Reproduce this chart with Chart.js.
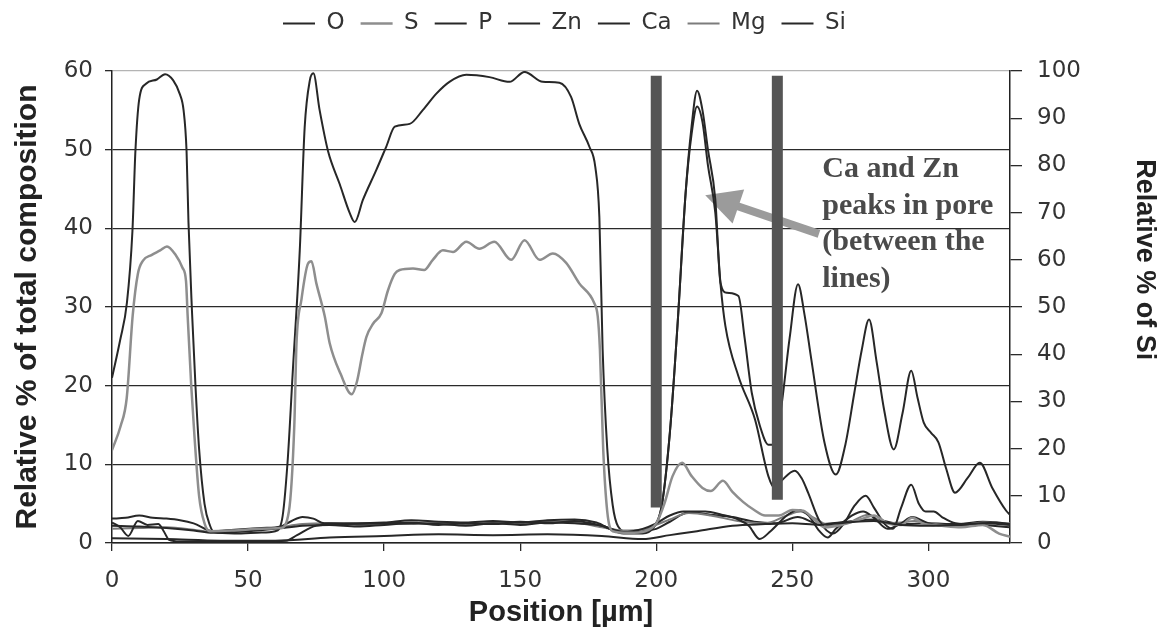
<!DOCTYPE html>
<html lang="en">
<head>
<meta charset="UTF-8" />
<title>Line scan composition</title>
<script src="https://cdn.jsdelivr.net/npm/chart.js"></script>
<style>
  html, body { margin: 0; padding: 0; background: #fff; }
  #wrap { width: 1157px; height: 632px; }
</style>
</head>
<body>
<div id="wrap"><canvas id="scan"></canvas></div>
<script>
// positions in µm, values in % (Si on the right axis)
const oPos = [0, 20, 40, 60, 80, 100, 120, 140, 160, 180, 195, 205, 215, 228, 240, 250, 260, 270, 280, 290, 300, 310, 320, 330];
const oVal = [0.6, 0.5, 0.3, 0.3, 0.7, 0.9, 1.1, 1.0, 1.1, 0.9, 0.5, 1.0, 1.5, 2.2, 2.4, 2.5, 2.3, 2.6, 2.8, 2.3, 2.2, 2.3, 2.5, 2.3];

const sPos = [0, 3.2, 5.4, 7.6, 9.5, 11.4, 14.5, 17.7, 20.2, 23.4, 25.9, 27.2, 27.8, 29.1, 30.3, 32, 34, 36, 45, 55,
  62, 65, 67, 67.8, 69.6, 72, 73.3, 75.1, 78.2, 80, 84, 88.1, 90, 92, 93.5, 96, 99, 101.4, 103.9, 105.7,
  110.6, 114.7, 117.9, 121.6, 125.3, 130.2, 135, 140.5, 146.7, 151.6, 157.1, 162, 166.9, 171.7, 177.2, 178.5, 179.3, 180.5, 182, 184,
  190, 196, 200, 203, 206, 209.5, 213, 217, 220, 224.5, 228, 232, 236, 240, 245, 250, 254, 258, 262, 268,
  275, 280, 285, 290, 294, 298, 305, 312, 320, 326, 330];
const sVal = [11.8, 14.9, 18.4, 28.9, 34.2, 35.9, 36.6, 37.2, 37.7, 36.6, 35, 33.3, 28.9, 20.1, 13.6, 6, 2.5, 1.5, 1.6, 1.8,
  1.9, 4, 15, 25.4, 30.9, 35.5, 35.8, 33, 28.8, 25.4, 21.5, 18.9, 20.5, 24, 26.2, 27.9, 29.2, 32.1, 34.2, 34.7,
  34.9, 34.7, 36, 37.2, 37, 38.3, 37.4, 38.3, 36, 38.5, 36, 36.8, 35.6, 33, 30.5, 28.8, 24.6, 12, 4, 1.5,
  1.3, 1.5, 2.5, 5, 8.5, 10.2, 8.5, 7, 6.6, 7.9, 6.5, 5.2, 4.2, 3.5, 3.5, 4.2, 4.1, 3, 2, 2.3,
  3, 3.5, 2.5, 2.3, 3.2, 2.5, 2.2, 2, 2.3, 1.2, 0.8];

const pPos = [0, 3, 6, 9.5, 13, 17, 19, 21, 25, 40, 55, 64, 68, 75, 85, 100, 110, 120, 130, 140,
  150, 160, 170, 180, 188, 195, 200, 205, 210, 218, 224, 230, 234, 238, 242, 248, 252, 256, 260, 263,
  266, 272, 276, 280, 285, 290, 294, 300, 305, 315, 325, 330];
const pVal = [2.6, 2, 0.9, 2.8, 2.3, 2.4, 1.5, 0.4, 0.2, 0.2, 0.2, 0.3, 1.0, 2.2, 2.4, 2.5, 2.6, 2.3, 2.5, 2.4,
  2.7, 2.5, 2.8, 2.2, 1.4, 1.8, 2.5, 3.5, 4.0, 4.0, 3.6, 3.0, 2.2, 0.5, 1.5, 3.5, 4.2, 3.5, 1.5, 0.7,
  1.8, 3.5, 4.0, 3.2, 1.8, 2.5, 3.3, 2.5, 2.2, 2.3, 2.6, 2.4];

const znPos = [0, 10, 20, 30, 37, 50, 60, 70, 80, 90, 100, 110, 120, 130, 140, 150, 160, 170, 180, 188,
  195, 199, 202, 205, 207.8, 210.8, 213, 215, 217, 219, 221.7, 223.6, 226, 230.2, 232.5, 235.1, 238, 241.2, 243.5, 246,
  249, 252.1, 254.5, 257, 261.8, 266, 269.5, 272.8, 275.5, 278.2, 281, 283.7, 287.3, 290.5, 293.7, 296, 298.3, 301, 303.7, 306.5,
  309.8, 314.5, 318.9, 323.5, 328.6, 330];
const znVal = [2.2, 2.1, 1.9, 1.6, 1.3, 1.5, 1.8, 2.2, 2.3, 2.1, 2.3, 2.5, 2.4, 2.2, 2.5, 2.3, 2.6, 2.5, 2.2, 1.2,
  1.2, 2, 4.7, 14, 27.6, 44.5, 53, 57.5, 55, 50, 43.7, 33.1, 31.8, 31.4, 26, 19.1, 15, 12.5, 12.5, 17.4,
  26, 32.9, 29, 23.3, 12.8, 8.7, 12.5, 19.1, 24.5, 28.4, 23, 17, 11.9, 16.5, 21.9, 18.5, 15.3, 14, 12.8, 9.5,
  6.4, 8.3, 10.2, 7, 4.1, 3.6];

const caPos = [0, 5, 10, 15, 20, 25, 30, 37, 45, 55, 62, 66, 70, 74, 78, 90, 100, 110, 120, 130,
  140, 150, 160, 170, 178, 186, 194, 199, 202, 205, 207.8, 210.8, 213, 215, 217, 219, 221.7, 223.6, 225.4, 230.2,
  236.3, 241.2, 243.5, 246, 250.9, 253.5, 255.8, 260, 265, 269, 273, 277, 280, 284, 287, 290, 293.7, 296.5, 299, 302,
  305, 310, 320, 330];
const caVal = [3.1, 3.2, 3.5, 3.2, 3.1, 2.9, 2.5, 1.5, 1.7, 1.9, 2.1, 2.8, 3.3, 3.1, 2.5, 2.5, 2.6, 2.9, 2.7, 2.6,
  2.8, 2.6, 2.9, 3.0, 2.6, 1.4, 1.3, 2, 4.7, 14, 27.6, 44.5, 52, 55.5, 53.5, 48, 42, 33, 27.6, 21.2,
  15.7, 8.5, 7, 7.9, 9.2, 8.2, 6.4, 2.8, 1.2, 2.5, 4.8, 6, 4.5, 2.4, 1.8, 4.5, 7.4, 5, 4, 4,
  3.3, 2.5, 2.3, 2];

const mgPos = [0, 10, 20, 30, 37, 50, 60, 70, 80, 90, 100, 110, 120, 130, 140, 150, 160, 170, 180, 188,
  195, 200, 205, 212, 220, 230, 240, 248, 253, 258, 264, 270, 278, 284, 290, 295, 300, 310, 320, 330];
const mgVal = [1.8, 1.9, 2.0, 1.7, 1.4, 1.6, 1.9, 2.4, 2.5, 2.3, 2.4, 2.4, 2.6, 2.4, 2.6, 2.4, 2.7, 2.6, 2.0, 1.6,
  1.7, 2.3, 3.0, 3.8, 3.5, 2.8, 2.5, 3.5, 4.0, 3.2, 2.2, 2.5, 3.6, 2.5, 2.6, 2.8, 2.5, 2.2, 2.6, 2.5];

const siPos = [0, 3, 5.5, 7.5, 8.6, 10, 12.5, 16.5, 19.5, 22.5, 25, 26.3, 27.4, 28.1, 29.4, 30.7, 32, 34, 36, 37.5,
  45, 55, 60, 62.5, 64.5, 66.5, 69, 70.8, 72.7, 74, 76.3, 79.4, 83.7, 87.3, 89.2, 92.2, 97.1, 100.8, 103.9, 109.4,
  114.2, 119.2, 124, 130.2, 138.7, 146.1, 151.6, 158.3, 164.4, 168.7, 171.7, 175.4, 177.6, 179.1, 180.3, 182, 184, 186, 190, 195,
  200, 205, 212, 220, 228, 236, 244, 252, 260, 270, 280, 290, 300, 310, 320, 330];
const siVal = [35, 43, 51, 66, 83, 94, 97.3, 98.2, 99.3, 98, 95, 91.7, 83, 68, 49, 33, 20, 8.3, 3.7, 2.3,
  2, 2.2, 2.5, 5, 17, 37, 62, 88, 98, 99.5, 91.7, 83, 76, 70, 68, 72.7, 79, 84, 88.2, 88.8,
  91.7, 95.2, 97.7, 99.2, 98.7, 97.7, 99.8, 97.7, 97.5, 94.5, 88.8, 84, 79.7, 69, 41, 20, 8, 3.5, 2.2, 2.5,
  3, 4.5, 6.5, 6, 5.5, 4.5, 4.2, 5.5, 4, 4.5, 5, 4, 4.2, 4, 4.5, 4];

// pore walls: position and the value range the marker spans
const poreEdges = [200, 244.5];
const poreLow = [4.5, 5.5];
const poreHigh = [59.4, 59.4];

// callout
const calloutLines = ['Ca and Zn', 'peaks in pore', '(between the', 'lines)'];
const calloutAt = [261, 46.5];
const arrowTail = [259.8, 39.3];
const arrowTip = [218, 44.2];

const dark = '#272727';

function pts(pos, val) {
  return pos.map((x, i) => ({ x: x, y: val[i] }));
}

function line(label, pos, val, color, width, axis) {
  return {
    label: label,
    data: pts(pos, val),
    borderColor: color,
    backgroundColor: color,
    borderWidth: width,
    pointRadius: 0,
    cubicInterpolationMode: 'monotone',
    yAxisID: axis || 'y',
    order: 0
  };
}

const datasets = [
  line('O', oPos, oVal, dark, 2),
  line('S', sPos, sVal, '#8e8e8e', 2.5),
  line('P', pPos, pVal, dark, 2),
  line('Zn', znPos, znVal, dark, 2),
  line('Ca', caPos, caVal, dark, 2),
  line('Mg', mgPos, mgVal, '#7c7c7c', 2),
  line('Si', siPos, siVal, dark, 2, 'y1')
];

poreEdges.forEach((edge, i) => {
  datasets.push({
    label: 'pore' + i,
    data: [{ x: edge, y: poreLow[i] }, { x: edge, y: poreHigh[i] }],
    borderColor: '#555',
    borderWidth: 11,
    borderCapStyle: 'butt',
    pointRadius: 0,
    tension: 0,
    yAxisID: 'y',
    order: -1
  });
});

const tickFont = { family: 'DejaVu Sans', size: 23 };

const tweaks = {
  id: 'tweaks',
  afterInit(chart) {
    const legend = chart.legend;
    const fit = legend.fit;
    legend.fit = function () {
      fit.call(this);
      this.height = 71;
    };
  },
  afterLayout(chart) {
    const lg = chart.legend;
    lg.left -= 14; lg.right -= 14;
    lg.top -= 4; lg.bottom -= 4;
  },
  beforeDatasetsDraw(chart) {
    const { ctx, scales: { x, y } } = chart;
    const x0 = x.getPixelForValue(arrowTail[0]), y0 = y.getPixelForValue(arrowTail[1]);
    const x1 = x.getPixelForValue(arrowTip[0]), y1 = y.getPixelForValue(arrowTip[1]);
    const len = Math.hypot(x1 - x0, y1 - y0);
    const ux = (x1 - x0) / len, uy = (y1 - y0) / len;
    const head = 35, half = 18;
    const bx = x1 - ux * head, by = y1 - uy * head;
    ctx.save();
    ctx.strokeStyle = '#9b9b9b';
    ctx.fillStyle = '#9b9b9b';
    ctx.lineWidth = 8;
    ctx.beginPath();
    ctx.moveTo(x0, y0);
    ctx.lineTo(bx + ux * 3, by + uy * 3);
    ctx.stroke();
    ctx.beginPath();
    ctx.moveTo(x1, y1);
    ctx.lineTo(bx - uy * half, by + ux * half);
    ctx.lineTo(bx + uy * half, by - ux * half);
    ctx.closePath();
    ctx.fill();
    ctx.restore();
  },
  afterDatasetsDraw(chart) {
    const { ctx, scales: { x, y, y1 } } = chart;
    ctx.save();
    ctx.font = 'bold 30px "Liberation Serif"';
    ctx.fillStyle = '#4a4a4a';
    ctx.textAlign = 'left';
    ctx.textBaseline = 'alphabetic';
    const tx = x.getPixelForValue(calloutAt[0]);
    const ty = y.getPixelForValue(calloutAt[1]);
    calloutLines.forEach((t, i) => ctx.fillText(t, tx, ty + i * 36.5));
    ctx.restore();

    // right axis title sits above centre, as in the source figure
    ctx.save();
    ctx.font = 'bold 27px "Liberation Sans"';
    ctx.fillStyle = '#222';
    ctx.textAlign = 'center';
    ctx.textBaseline = 'middle';
    ctx.translate(y1.right - 13, y1.getPixelForValue(60));
    ctx.rotate(Math.PI / 2);
    ctx.fillText('Relative % of Si', 0, 0);
    ctx.restore();
  }
};

new Chart(document.getElementById('scan'), {
  type: 'line',
  data: { datasets: datasets },
  options: {
    responsive: true,
    maintainAspectRatio: false,
    animation: false,
    layout: { padding: 0 },
    plugins: {
      legend: {
        position: 'top',
        labels: {
          filter: (item) => item.datasetIndex < 7,
          usePointStyle: true,
          pointStyle: 'line',
          pointStyleWidth: 32,
          padding: 16,
          color: '#333',
          font: { family: 'DejaVu Sans', size: 23 }
        }
      },
      tooltip: { enabled: false }
    },
    scales: {
      x: {
        type: 'linear',
        min: 0,
        max: 330,
        bounds: 'data',
        afterFit: (s) => { s.height = 89; },
        afterBuildTicks: (s) => { s.ticks = s.ticks.filter((t) => t.value % 50 === 0); },
        ticks: { stepSize: 50, includeBounds: false, font: tickFont, color: '#333', padding: 16, maxRotation: 0 },
        grid: { drawOnChartArea: false, tickLength: 8, color: '#2a2a2a', lineWidth: 1.3 },
        border: { color: '#222', width: 1.5 },
        title: {
          display: true,
          text: 'Position [µm]',
          color: '#222',
          font: { family: 'Liberation Sans', size: 29, weight: 'bold' },
          padding: { top: 0, bottom: 2 }
        }
      },
      y: {
        position: 'left',
        min: 0,
        max: 60,
        afterFit: (s) => { s.width = 112; },
        ticks: { stepSize: 10, font: tickFont, color: '#333', padding: 12 },
        grid: {
          color: (c) => (c.tick && c.tick.value === 60 ? '#b4b4b4' : '#2a2a2a'),
          tickColor: '#2a2a2a',
          lineWidth: 1.3,
          tickLength: 7
        },
        border: { color: '#222', width: 1.5 },
        title: {
          display: true,
          text: 'Relative % of total composition',
          color: '#222',
          font: { family: 'Liberation Sans', size: 30, weight: 'bold' },
          padding: { top: 10, bottom: 0 }
        }
      },
      y1: {
        position: 'right',
        min: 0,
        max: 100,
        afterFit: (s) => { s.width = 147; },
        ticks: { stepSize: 10, font: tickFont, color: '#333', padding: 15 },
        grid: { drawOnChartArea: false, tickLength: 12, color: '#2a2a2a', lineWidth: 1.3 },
        border: { color: '#222', width: 1.5 },
        title: { display: false }
      }
    }
  },
  plugins: [tweaks]
});
</script>
</body>
</html>
